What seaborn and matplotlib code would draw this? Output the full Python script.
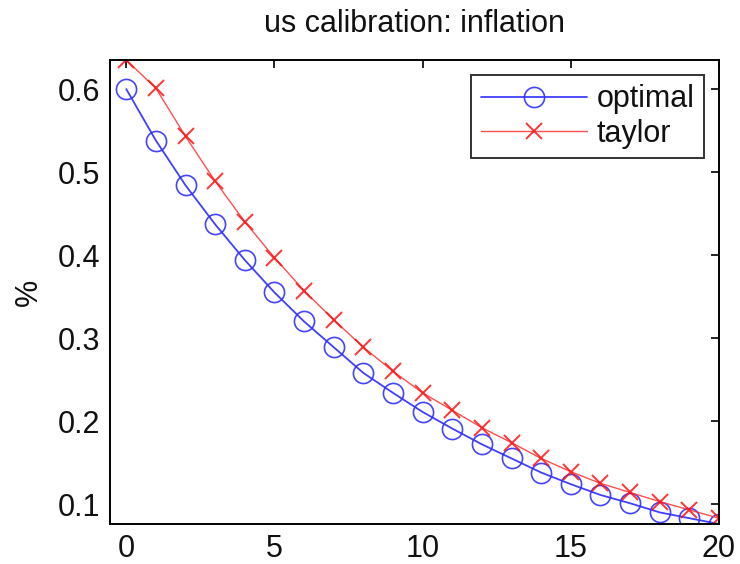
import matplotlib
matplotlib.use("Agg")
import matplotlib.pyplot as plt
import seaborn as sns
import pandas as pd

periods = list(range(21))
optimal = [0.600, 0.538, 0.484, 0.437, 0.394, 0.355, 0.320, 0.289, 0.258, 0.234, 0.211,
           0.191, 0.172, 0.155, 0.138, 0.124, 0.111, 0.101, 0.090, 0.083, 0.076]
taylor = [0.635, 0.601, 0.543, 0.489, 0.440, 0.397, 0.357, 0.322, 0.289, 0.260, 0.234,
          0.213, 0.192, 0.174, 0.155, 0.139, 0.125, 0.114, 0.103, 0.093, 0.083]
xticks = [0, 5, 10, 15, 20]
yticks = [0.1, 0.2, 0.3, 0.4, 0.5, 0.6]
title = "us calibration: inflation"
ylabel = "%"

sns.set_theme(style="white")
plt.rcParams['font.family'] = ['Liberation Sans', 'DejaVu Sans']
plt.rcParams['text.color'] = '#111111'
plt.rcParams['axes.labelcolor'] = '#111111'

FS = 22

fig = plt.figure(figsize=(7.4, 5.64), dpi=100)
ax = fig.add_axes([0.1486, 0.0709, 0.8230, 0.8227])

df_opt = pd.DataFrame({"t": periods, "v": optimal})
df_tay = pd.DataFrame({"t": periods, "v": taylor})

sns.lineplot(data=df_opt, x="t", y="v", ax=ax, color="#2a2aff", lw=1.3,
             marker="o", markersize=14.5, markerfacecolor="none",
             markeredgecolor="#3030ff", markeredgewidth=1.2, label="optimal", alpha=0.9)
sns.lineplot(data=df_tay, x="t", y="v", ax=ax, color="#ff3030", lw=1.0,
             marker="x", markersize=11.5, markeredgecolor="#ff1010",
             markeredgewidth=1.4, label="taylor", alpha=0.85)

ax.set_xlim(-0.55, 20)
ax.set_ylim(0.076, 0.635)
ax.set_xticks(xticks)
ax.set_yticks(yticks)
ax.set_xticklabels([str(v) for v in xticks])
ax.set_yticklabels([f"{v:.1f}" for v in yticks])
ax.tick_params(direction="in", length=6, width=1.2, top=True, right=True,
               labelsize=FS, colors="black", labelcolor="#111111")
ax.tick_params(axis="x", pad=7)
ax.tick_params(axis="y", pad=7)
for s in ax.spines.values():
    s.set_color("black")
    s.set_linewidth(1.4)
ax.set_xlabel("")
ax.set_ylabel(ylabel, fontsize=FS, labelpad=10)
ax.set_title(title, fontsize=FS, pad=20)

leg = ax.legend(loc="upper right", fontsize=FS, frameon=True, fancybox=False,
                edgecolor="black", handlelength=3.5, borderpad=0.3,
                labelspacing=0.15, handletextpad=0.3, borderaxespad=0.5)
leg.get_frame().set_linewidth(1.4)

fig.savefig("out.png", dpi=100, facecolor="white")
